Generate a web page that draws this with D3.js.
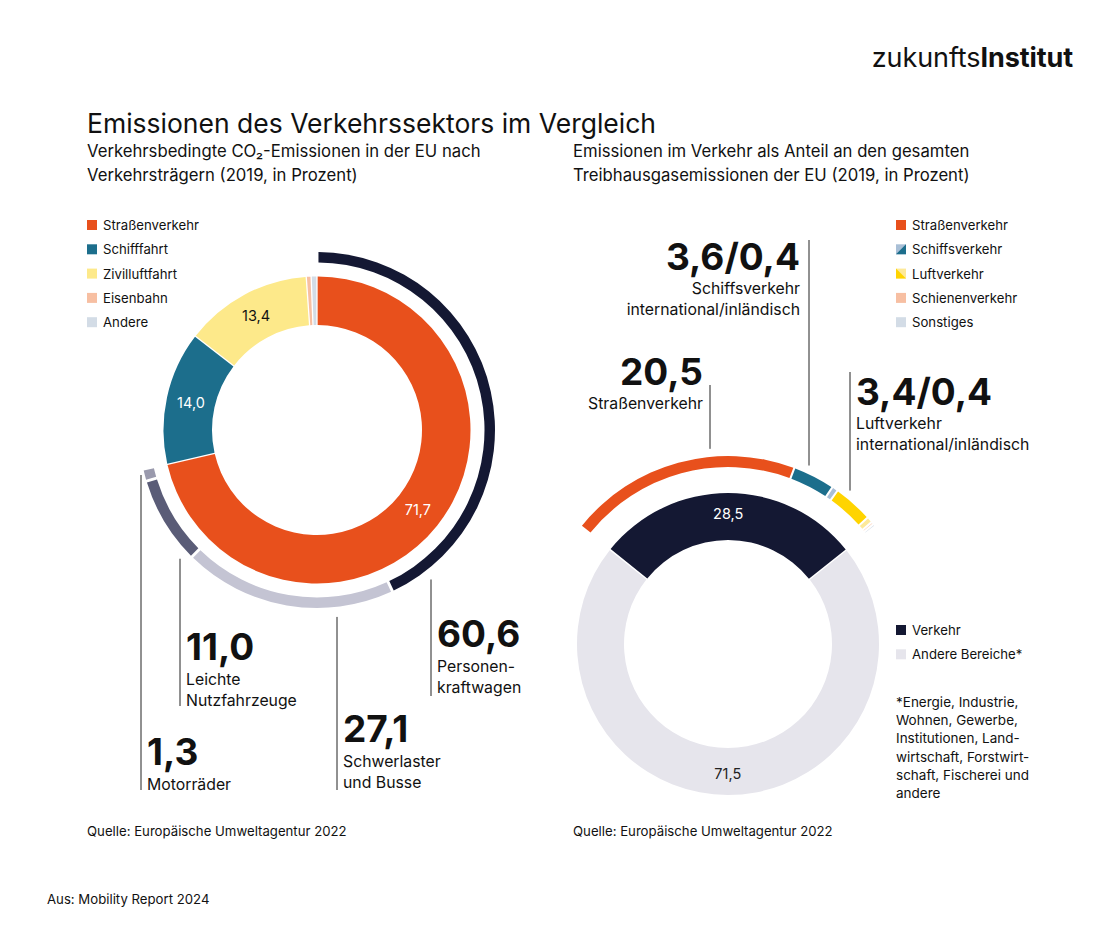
<!DOCTYPE html>
<html><head><meta charset="utf-8">
<script src="https://cdn.jsdelivr.net/npm/d3@7"></script>
<style>
body{margin:0;background:#fff;}
svg{font-family:Inter,Roboto,"Noto Sans",sans-serif;}
</style></head><body>
<svg id="c" width="1120" height="950"></svg>
<script>
// ---------- DATA ----------
const leftCategories = ["Straßenverkehr","Schifffahrt","Zivilluftfahrt","Eisenbahn","Andere"];
const leftValues = [71.7, 14.0, 13.4, 0.4, 0.5];
const leftColors = ["#e8501c","#1c6e8c","#fde98a","#f7bfa2","#d3dce6"];
const leftLabels = ["71,7","14,0","13,4","",""];

const roadCategories = ["Personenkraftwagen","Schwerlaster und Busse","Leichte Nutzfahrzeuge","Motorräder"];
const roadValues = [60.6, 27.1, 11.0, 1.3];
const roadColors = ["#141833","#c4c4d3","#5a5c77","#9a9aad"];
const roadLabelValues = ["60,6","27,1","11,0","1,3"];
const roadLabelLines = [["Personen-","kraftwagen"],["Schwerlaster","und Busse"],["Leichte","Nutzfahrzeuge"],["Motorräder"]];

const totalCategories = ["Verkehr","Andere Bereiche*"];
const totalValues = [28.5, 71.5];
const totalColors = ["#141833","#e6e5ec"];
const totalLabels = ["28,5","71,5"];

const transportCategories = ["Straßenverkehr","Schiffsverkehr international","Schiffsverkehr inländisch","Luftverkehr international","Luftverkehr inländisch","Schienenverkehr","Sonstiges"];
const transportValues = [20.5, 3.6, 0.4, 3.4, 0.4, 0.1, 0.1];
const transportColors = ["#e8501c","#1c6e8c","#a9bfd6","#ffd400","#fde99a","#f7bfa2","#d3dce6"];

const rightLegend = ["Straßenverkehr","Schiffsverkehr","Luftverkehr","Schienenverkehr","Sonstiges"];
const footnoteLines = ["*Energie, Industrie,","Wohnen, Gewerbe,","Institutionen, Land-","wirtschaft, Forstwirt-","schaft, Fischerei und","andere"];

// ---------- DRAW ----------
const svg = d3.select("#c");
const TXT = "#111";
const SMALL = 13.2;

// logo
const logo = svg.append("text").attr("x",1073).attr("y",67).attr("text-anchor","end")
  .attr("font-size",27).attr("fill",TXT).attr("letter-spacing","-0.1");
logo.append("tspan").attr("font-weight",400).text("zukunfts");
logo.append("tspan").attr("font-weight",700).text("Institut");

// titles
svg.append("text").attr("x",87).attr("y",133).attr("font-size",26.5).attr("font-weight",400).attr("fill",TXT)
  .text("Emissionen des Verkehrssektors im Vergleich");
[["Verkehrsbedingte CO₂-Emissionen in der EU nach","Verkehrsträgern (2019, in Prozent)"],
 ["Emissionen im Verkehr als Anteil an den gesamten","Treibhausgasemissionen der EU (2019, in Prozent)"]]
 .forEach((lines,i)=>{
   lines.forEach((l,j)=>svg.append("text").attr("x",i?573:87).attr("y",157+j*24)
     .attr("font-size",16.7).attr("fill",TXT).text(l));
 });

// legends
function legend(x, y0, names, drawSwatch){
  names.forEach((n,i)=>{
    const y = y0 + i*24.3;
    const g = svg.append("g").attr("transform",`translate(${x},${y})`);
    drawSwatch(g,i);
    g.append("text").attr("x",16).attr("y",5).attr("font-size",SMALL).attr("fill",TXT).text(n);
  });
}
legend(87,225,leftCategories,(g,i)=>g.append("rect").attr("x",0).attr("y",-5).attr("width",10).attr("height",10).attr("fill",leftColors[i]));
const rightLegendSwatches = [[transportColors[0]],[transportColors[2],transportColors[1]],[transportColors[4],transportColors[3]],[transportColors[5]],[transportColors[6]]];
legend(896,225,rightLegend,(g,i)=>{
  const c = rightLegendSwatches[i];
  g.append("rect").attr("x",0).attr("y",-5).attr("width",10).attr("height",10).attr("fill",c[0]);
  if(c.length>1){
    if(i===1) g.append("path").attr("d","M10,-5L10,5L0,5Z").attr("fill",c[1]);
    else g.append("path").attr("d","M0,-5L0,5L10,5Z").attr("fill",c[1]);
  }
});
legend(896,630,totalCategories,(g,i)=>g.append("rect").attr("x",0).attr("y",-5).attr("width",10).attr("height",10).attr("fill",totalColors[i]));
footnoteLines.forEach((l,i)=>svg.append("text").attr("x",896).attr("y",707+i*18.2).attr("font-size",13.5).attr("fill",TXT).text(l));

// sources
svg.append("text").attr("x",87).attr("y",836).attr("font-size",SMALL).attr("fill",TXT).text("Quelle: Europäische Umweltagentur 2022");
svg.append("text").attr("x",573).attr("y",836).attr("font-size",SMALL).attr("fill",TXT).text("Quelle: Europäische Umweltagentur 2022");
svg.append("text").attr("x",47).attr("y",904).attr("font-size",SMALL).attr("fill",TXT).text("Aus: Mobility Report 2024");

// ---------- LEFT DONUT ----------
const L = {cx:317, cy:430};
const gL = svg.append("g").attr("transform",`translate(${L.cx},${L.cy})`);
const pieL = d3.pie().sort(null).value(d=>d).padAngle(0.007);
const arcL = d3.arc().innerRadius(105).outerRadius(153.5);
const arcsL = pieL(leftValues);
gL.selectAll("path.in").data(arcsL).join("path").attr("class","in").attr("d",arcL).attr("fill",(d,i)=>leftColors[i]);
const labelArcL = d3.arc().innerRadius(129).outerRadius(129);
const leftLabelColors = ["#fff","#fff",TXT,TXT,TXT];
gL.selectAll("text.in").data(arcsL).join("text").attr("class","in")
  .attr("transform",d=>`translate(${labelArcL.centroid(d)})`)
  .attr("text-anchor","middle").attr("dy","0.35em").attr("font-size",14.5)
  .attr("fill",(d,i)=>leftLabelColors[i]).text((d,i)=>leftLabels[i]);

const roadEnd = arcsL[0].endAngle + 0.0035;
const pieRoad = d3.pie().sort(null).value(d=>d).startAngle(0).endAngle(roadEnd).padAngle(0.012);
const arcRoad = d3.arc().innerRadius(167.5).outerRadius(178);
const arcsRoad = pieRoad(roadValues);
gL.selectAll("path.road").data(arcsRoad).join("path").attr("class","road").attr("d",arcRoad).attr("fill",(d,i)=>roadColors[i]);

// annotations for road sub-categories: x offset from centre, label baseline
const roadAnno = [
  {dx:114, y2:696, ty:647},
  {dx:20,  y2:790, ty:742},
  {dx:-137,y2:706, ty:660},
  {dx:-176,y2:790, ty:765}
];
roadAnno.forEach((a,i)=>{
  const r = 188;
  let y1 = Math.sqrt(Math.max(0,r*r - a.dx*a.dx));
  if(i===3) y1 = 45;
  const x = L.cx + a.dx;
  svg.append("line").attr("x1",x).attr("x2",x).attr("y1",L.cy+y1).attr("y2",a.y2)
    .attr("stroke","#222").attr("stroke-width",1);
  svg.append("text").attr("x",x+6).attr("y",a.ty).attr("font-size",37).attr("font-weight",700)
    .attr("fill",TXT).text(roadLabelValues[i]);
  roadLabelLines[i].forEach((l,j)=>svg.append("text").attr("x",x+6).attr("y",a.ty+25+j*20.5)
    .attr("font-size",15.8).attr("fill",TXT).text(l));
});

// ---------- RIGHT DONUT ----------
const R = {cx:728, cy:644};
const gR = svg.append("g").attr("transform",`translate(${R.cx},${R.cy})`);
const half = Math.PI * totalValues[0]/100;
const pieR = d3.pie().sort(null).value(d=>d).startAngle(-half).endAngle(2*Math.PI-half).padAngle(0.008);
const arcR = d3.arc().innerRadius(104).outerRadius(151);
const arcsR = pieR(totalValues);
gR.selectAll("path.in").data(arcsR).join("path").attr("d",arcR).attr("fill",(d,i)=>totalColors[i]);
const labelArcR = d3.arc().innerRadius(130).outerRadius(130);
gR.selectAll("text.in").data(arcsR).join("text")
  .attr("transform",d=>`translate(${labelArcR.centroid(d)})`)
  .attr("text-anchor","middle").attr("dy","0.35em").attr("font-size",14.5)
  .attr("fill",(d,i)=>i?"#222":"#fff").text((d,i)=>totalLabels[i]);

const pieT = d3.pie().sort(null).value(d=>d).startAngle(-half).endAngle(half).padAngle(0.008);
const arcT = d3.arc().innerRadius(177).outerRadius(188);
const arcsT = pieT(transportValues);
gR.selectAll("path.tr").data(arcsT).join("path").attr("d",arcT).attr("fill",(d,i)=>transportColors[i]);

const rightAnno = [
  {dx:-18, y1:385, big:"20,5", lines:["Straßenverkehr"], anchor:"end", tx:-7, ty:385},
  {dx:81,  y1:240, big:"3,6/0,4", lines:["Schiffsverkehr","international/inländisch"], anchor:"end", tx:-9, ty:270},
  {dx:122, y1:372, big:"3,4/0,4", lines:["Luftverkehr","international/inländisch"], anchor:"start", tx:6, ty:405}
];
rightAnno.forEach(a=>{
  const x = R.cx + a.dx;
  const y2 = R.cy - Math.sqrt(196*196 - a.dx*a.dx);
  svg.append("line").attr("x1",x).attr("x2",x).attr("y1",a.y1).attr("y2",y2).attr("stroke","#222").attr("stroke-width",1);
  svg.append("text").attr("x",x+a.tx).attr("y",a.ty).attr("text-anchor",a.anchor).attr("font-size",37).attr("font-weight",700)
    .attr("fill",TXT).text(a.big);
  a.lines.forEach((l,j)=>svg.append("text").attr("x",x+a.tx).attr("y",a.ty+24+j*20.5).attr("text-anchor",a.anchor)
    .attr("font-size",15.8).attr("fill",TXT).text(l));
});
</script>
</body></html>
